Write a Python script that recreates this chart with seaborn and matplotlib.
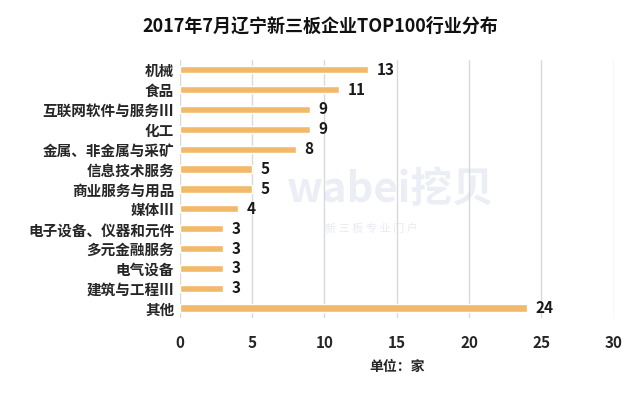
import matplotlib
matplotlib.use("Agg")
import matplotlib.pyplot as plt
import seaborn as sns
import pandas as pd

categories = ["机械", "食品", "互联网软件与服务Ⅲ", "化工", "金属、非金属与采矿", "信息技术服务",
              "商业服务与用品", "媒体Ⅲ", "电子设备、仪器和元件", "多元金融服务", "电气设备",
              "建筑与工程Ⅲ", "其他"]
values = [13, 11, 9, 9, 8, 5, 5, 4, 3, 3, 3, 3, 24]
xticks = [0, 5, 10, 15, 20, 25, 30]

sns.set_theme(style="white")
plt.rcParams['font.family'] = ['Noto Sans CJK SC', 'DejaVu Sans']

df = pd.DataFrame({"cat": categories, "val": values})

fig = plt.figure(figsize=(6.4, 3.99), dpi=100)
ax = fig.add_axes([0.281, 0.203, 0.678, 0.647])

# watermark (behind everything)
fig.text(0.61, 0.525, "wabei挖贝", ha='center', va='center', fontsize=30, fontweight='bold',
         color='#C9D1E3', alpha=0.35, zorder=0)
fig.text(0.58, 0.428, "新 三 板 专 业 门 户", ha='center', va='center', fontsize=8,
         color='#C9D1E3', alpha=0.45, zorder=0)
ax.patch.set_alpha(0)

sns.barplot(data=df, x="val", y="cat", color="#F2B96B", saturation=1, width=0.36, ax=ax, zorder=3)

ax.set_xlim(0, 30)
ax.set_xticks(xticks)
ax.set_xticklabels([str(t) for t in xticks], fontsize=11, fontweight='bold')
ax.set_ylim(12.5, -0.5)
for lbl in ax.get_yticklabels():
    lbl.set_fontsize(10.5)
    lbl.set_fontweight('bold')
ax.tick_params(axis='x', length=0, pad=12)
ax.tick_params(axis='y', length=0, pad=4)
ax.set_ylabel("")
ax.set_xlabel("单位：家", fontsize=10, fontweight='bold', labelpad=7)
ax.grid(axis='x', color='#D9D9D9', linewidth=1, zorder=0)
for s in ax.spines.values():
    s.set_visible(False)

for i, v in enumerate(values):
    ax.text(v + 0.6, i, str(v), va='center', ha='left', fontsize=11, fontweight='bold', color='#1a1a1a', zorder=5)

fig.text(0.5, 0.935, "2017年7月辽宁新三板企业TOP100行业分布", ha='center', va='center',
         fontsize=13, fontweight='bold', color='#111111')

fig.savefig("out.png", dpi=100)
